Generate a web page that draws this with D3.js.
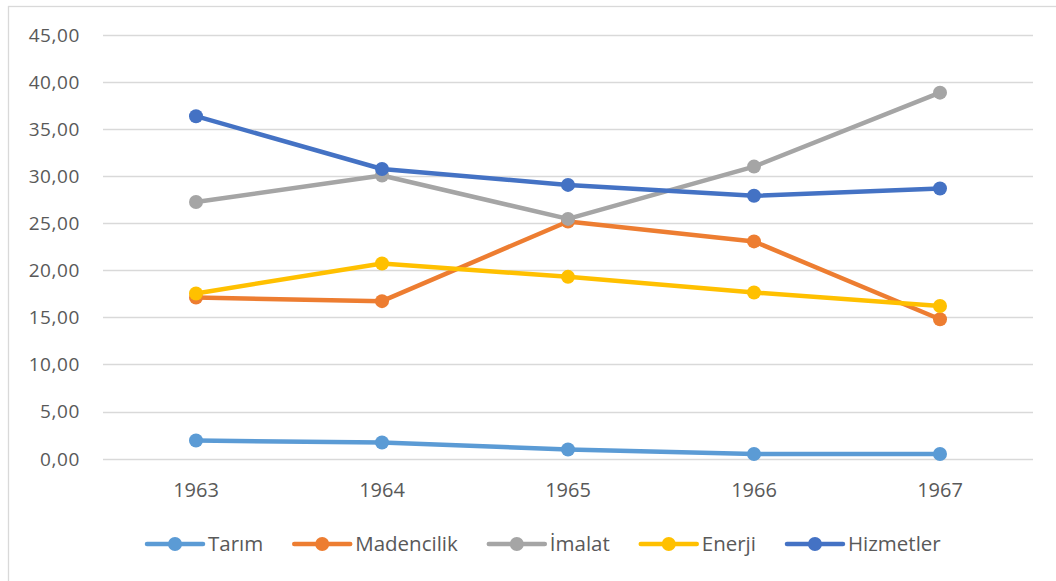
<!DOCTYPE html>
<html>
<head>
<meta charset="utf-8">
<script src="https://cdn.jsdelivr.net/npm/d3@7"></script>
<style>
  body { margin: 0; background: #fff; }
  text { font-family: "Open Sans", sans-serif; fill: #595959; }
</style>
</head>
<body>
<div id="chart"></div>
<script>
// data
var years = ["1963", "1964", "1965", "1966", "1967"];
var seriesNames = ["Tarım", "Madencilik", "İmalat", "Enerji", "Hizmetler"];
var tarim = [1.93, 1.72, 0.98, 0.50, 0.50];
var madencilik = [17.10, 16.72, 25.18, 23.06, 14.80];
var imalat = [27.25, 30.05, 25.45, 31.00, 38.85];
var enerji = [17.54, 20.72, 19.30, 17.64, 16.20];
var hizmetler = [36.35, 30.75, 29.06, 27.90, 28.68];
var yTicks = [0, 5, 10, 15, 20, 25, 30, 35, 40, 45];
var colors = ["#5B9BD5", "#ED7D31", "#A5A5A5", "#FFC000", "#4472C4"];

var series = [tarim, madencilik, imalat, enerji, hizmetler].map(function (v, i) {
  return { name: seriesNames[i], color: colors[i], values: v };
});

var width = 1056, height = 581;
var svg = d3.select("#chart").append("svg")
  .attr("width", width)
  .attr("height", height);

// chart area border (only left and top are visible in the picture)
svg.append("rect")
  .attr("x", 8.5).attr("y", 6.5)
  .attr("width", 1200).attr("height", 700)
  .style("fill", "none")
  .style("stroke", "#d9d9d9")
  .style("stroke-width", 1.3);

var x = d3.scaleBand().domain(years).range([103, 1033]);
var y = d3.scaleLinear().domain([0, 45]).range([458.7, 34.7]);

// gridlines
svg.append("g")
  .selectAll("line")
  .data(yTicks)
  .enter()
  .append("line")
  .attr("x1", 103).attr("x2", 1033)
  .attr("y1", (d) => Math.round(y(d)) + 0.5)
  .attr("y2", (d) => Math.round(y(d)) + 0.5)
  .style("stroke", "#d9d9d9")
  .style("stroke-width", 1.3);

// y labels
svg.append("g")
  .selectAll("text")
  .data(yTicks)
  .enter()
  .append("text")
  .attr("x", 80)
  .attr("y", (d) => y(d))
  .attr("dy", "0.36em")
  .style("text-anchor", "end")
  .style("font-size", "19px")
  .style("letter-spacing", "0.6px")
  .text((d) => d3.format(".2f")(d).replace(".", ","));

// x labels
svg.append("g")
  .selectAll("text")
  .data(years)
  .enter()
  .append("text")
  .attr("x", (d) => x(d) + x.bandwidth() / 2)
  .attr("y", 496.5)
  .style("text-anchor", "middle")
  .style("font-size", "20px")
  .text((d) => d);

var line = d3.line()
  .x((d, i) => x(years[i]) + x.bandwidth() / 2)
  .y((d) => y(d));

var groups = svg.append("g")
  .selectAll("g")
  .data(series)
  .enter()
  .append("g");

groups.append("path")
  .attr("d", (d) => line(d.values))
  .style("fill", "none")
  .style("stroke", (d) => d.color)
  .style("stroke-width", 4.5)
  .style("stroke-linejoin", "round")
  .style("stroke-linecap", "round");

groups.selectAll("circle")
  .data((d) => d.values.map((v, i) => ({ v: v, i: i, color: d.color })))
  .enter()
  .append("circle")
  .attr("cx", (d) => x(years[d.i]) + x.bandwidth() / 2)
  .attr("cy", (d) => y(d.v))
  .attr("r", 7)
  .style("fill", (d) => d.color);

// legend
var legend = svg.append("g");
var lx = 147, ly = 544;
series.forEach(function (s) {
  var item = legend.append("g");
  item.append("line")
    .attr("x1", lx).attr("x2", lx + 56)
    .attr("y1", ly).attr("y2", ly)
    .style("stroke", s.color)
    .style("stroke-width", 4.5)
    .style("stroke-linecap", "round");
  item.append("circle")
    .attr("cx", lx + 28).attr("cy", ly).attr("r", 7)
    .style("fill", s.color);
  var t = item.append("text")
    .attr("x", lx + 61)
    .attr("y", ly)
    .attr("dy", "0.36em")
    .style("font-size", "20.5px")
    .text(s.name);
  lx += 61 + t.node().getComputedTextLength() + 31;
});
</script>
</body>
</html>
